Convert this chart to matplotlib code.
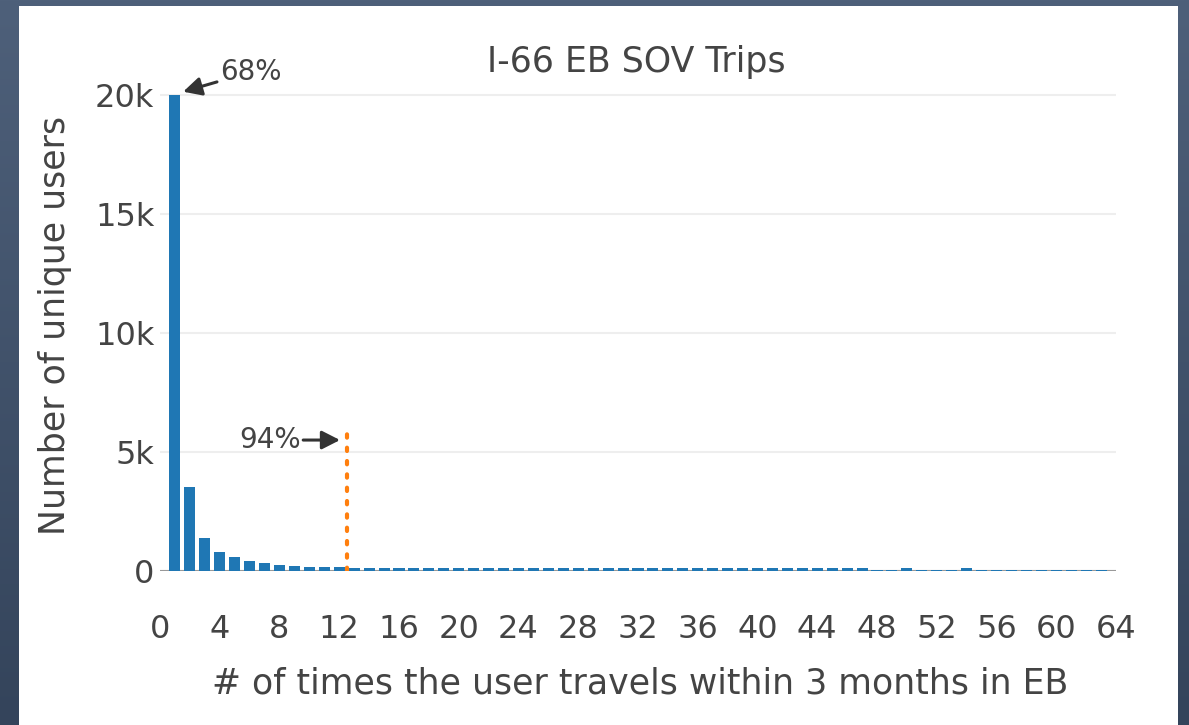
import numpy as np
import matplotlib
matplotlib.use("Agg")
import matplotlib.pyplot as plt
from matplotlib.patches import Rectangle

# number of trips in 3 months (x) and unique users making that many trips
trips = list(range(1, 64))
users = [20000, 3530, 1390, 800, 590, 420, 340, 260, 220, 180,
         160, 150, 145, 140, 140, 140, 140, 140, 140, 140,
         140, 140, 140, 140, 140, 140, 140, 140, 140, 140,
         135, 135, 135, 135, 135, 135, 135, 135, 135, 135,
         135, 135, 135, 135, 135, 135, 135, 50, 50, 140,
         50, 50, 50, 140, 40, 40, 40, 40, 40, 40,
         40, 40, 40]

y_ticks = [0, 5000, 10000, 15000, 20000]
y_tick_labels = ["0", "5k", "10k", "15k", "20k"]
x_ticks = list(range(0, 65, 4))

cutoff_x = 12.5
cutoff_top = 6000

TEXT = "#444444"
BAR = "#1f77b4"
ORANGE = "#ff7f0e"

W, H = 1189, 725
fig = plt.figure(figsize=(W / 100, H / 100), dpi=100)

# dark slide background with a gentle vertical gradient
bg = fig.add_axes([0, 0, 1, 1], zorder=-10)
grad = np.linspace(0, 1, 256).reshape(-1, 1)
top_c = np.array([0x4e, 0x60, 0x7a]) / 255
bot_c = np.array([0x34, 0x44, 0x5b]) / 255
img = top_c * (1 - grad[..., None]) + bot_c * grad[..., None]
bg.imshow(img, aspect="auto", extent=[0, 1, 0, 1])
bg.add_patch(Rectangle((19 / W, 0), (1178 - 19) / W, 1 - 6 / H,
                       facecolor="white", edgecolor="none"))
bg.set_xlim(0, 1)
bg.set_ylim(0, 1)
bg.axis("off")

ax = fig.add_axes([160 / W, 1 - 571 / H, (1116 - 160) / W, 500 / H])
ax.set_facecolor("none")

ax.bar(trips, users, width=0.74, color=BAR, zorder=3)

ax.set_xlim(0, 64)
ax.set_ylim(0, 21000)

ax.set_yticks(y_ticks)
ax.set_yticklabels(y_tick_labels)
ax.set_xticks(x_ticks)
for s in ax.spines.values():
    s.set_visible(False)
ax.axhline(0, color="#999999", lw=1.5, zorder=2)
ax.grid(axis="y", color="#eeeeee", lw=1.5, zorder=0)
ax.tick_params(axis="both", length=0, labelsize=23, labelcolor=TEXT)
ax.tick_params(axis="x", pad=31)
ax.tick_params(axis="y", pad=4)

fig.text(640 / W, 1 - 683 / H, "# of times the user travels within 3 months in EB",
         fontsize=25, color=TEXT, ha="center", va="center")
fig.text(55 / W, 1 - 325 / H, "Number of unique users", fontsize=25,
         color=TEXT, ha="center", va="center", rotation=90)
fig.text(636 / W, 1 - 62 / H, "I-66 EB SOV Trips", fontsize=25,
         color=TEXT, ha="center", va="center")

# cutoff line at 94% of users
ax.plot([cutoff_x, cutoff_x], [0, cutoff_top], color=ORANGE, lw=3,
        linestyle=(0, (0.8, 2.4)), dash_capstyle="round", zorder=5)

arrow = dict(arrowstyle="-|>,head_length=0.55,head_width=0.28", lw=2.2,
             color="#333333", shrinkA=0, shrinkB=0)
ax.annotate("68%", xy=(1.55, 20130), xytext=(4.0, 20950), fontsize=20,
            color=TEXT, ha="left", va="center", arrowprops=arrow)
ax.annotate("94%", xy=(12.05, 5500), xytext=(9.4, 5500), fontsize=20,
            color=TEXT, ha="right", va="center", arrowprops=arrow)

fig.savefig("out.png", dpi=100)
